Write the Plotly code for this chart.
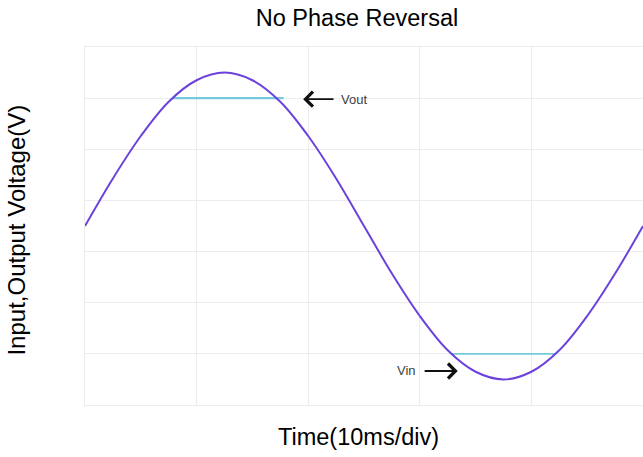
import plotly.graph_objects as go

# Time in divisions (10 ms/div) and voltage in divisions
time_div = [0, 0.25, 0.5, 0.75, 1.0, 1.25, 1.5, 1.75, 2.0, 2.25, 2.5,
            2.75, 3.0, 3.25, 3.5, 3.75, 4.0, 4.25, 4.5, 4.75, 5.0]
vin = [3.5, 4.43, 5.26, 5.93, 6.35, 6.5, 6.35, 5.93, 5.26, 4.43, 3.5,
       2.57, 1.74, 1.07, 0.65, 0.5, 0.65, 1.07, 1.74, 2.57, 3.5]
vout_top_x = [0.78, 1.78]
vout_top_y = [6.0, 6.0]
vout_bot_x = [3.28, 4.22]
vout_bot_y = [1.0, 1.0]

fig = go.Figure()
fig.add_trace(go.Scatter(x=vout_top_x, y=vout_top_y, mode="lines",
                         line=dict(color="#74c9dc", width=2.2), hoverinfo="skip"))
fig.add_trace(go.Scatter(x=vout_bot_x, y=vout_bot_y, mode="lines",
                         line=dict(color="#74c9dc", width=1.6), hoverinfo="skip"))
fig.add_trace(go.Scatter(x=time_div, y=vin, mode="lines",
                         line=dict(color="#6b42dc", width=2, shape="spline"),
                         hoverinfo="skip"))

lab_font = dict(size=13, color="#3f3f3f", family="Liberation Sans")
annos = [
    dict(x=1.955, y=5.98, ax=2.24, ay=5.98, xref="x", yref="y", axref="x", ayref="y",
         text="", showarrow=True, arrowhead=4, arrowsize=1.6, arrowwidth=1.8,
         arrowcolor="#111111"),
    dict(x=2.28, y=5.98, xref="x", yref="y", text="Vout", showarrow=False,
         xanchor="left", font=lab_font),
    dict(x=3.34, y=0.665, ax=3.03, ay=0.665, xref="x", yref="y", axref="x", ayref="y",
         text="", showarrow=True, arrowhead=4, arrowsize=1.6, arrowwidth=1.8,
         arrowcolor="#111111"),
    dict(x=2.985, y=0.665, xref="x", yref="y", text="Vin", showarrow=False,
         xanchor="right", font=lab_font),
    dict(x=0.491, y=-0.0894, xref="paper", yref="paper", text="Time(10ms/div)",
         showarrow=False, xanchor="center", yanchor="middle", font=dict(size=23.5)),
    dict(x=-0.1219, y=0.49, xref="paper", yref="paper", text="Input,Output Voltage(V)",
         showarrow=False, xanchor="center", yanchor="middle", textangle=-90,
         font=dict(size=24)),
]

fig.update_layout(
    width=643, height=457,
    margin=dict(l=85, r=0, t=47, b=52),
    paper_bgcolor="white", plot_bgcolor="white",
    showlegend=False,
    font=dict(family="Liberation Sans, Arial, sans-serif", color="#000000", size=16),
    title=dict(text="No Phase Reversal", xref="container", x=357 / 643, xanchor="center",
               yref="container", y=1 - 18 / 457, yanchor="middle", font=dict(size=23.5)),
    xaxis=dict(range=[0, 5], dtick=1, tick0=0, showticklabels=False, ticks="",
               showgrid=True, gridcolor="#ececec", gridwidth=1, zeroline=False,
               showline=True, linecolor="#ececec", linewidth=1, mirror=True),
    yaxis=dict(range=[0, 7], dtick=1, tick0=0, showticklabels=False, ticks="",
               showgrid=True, gridcolor="#ececec", gridwidth=1, zeroline=False,
               showline=True, linecolor="#ececec", linewidth=1, mirror=True),
    annotations=annos,
)

fig.write_html("out.html", config={"displayModeBar": False},
               post_script="document.body.style.margin='0';document.body.style.overflow='hidden';")
